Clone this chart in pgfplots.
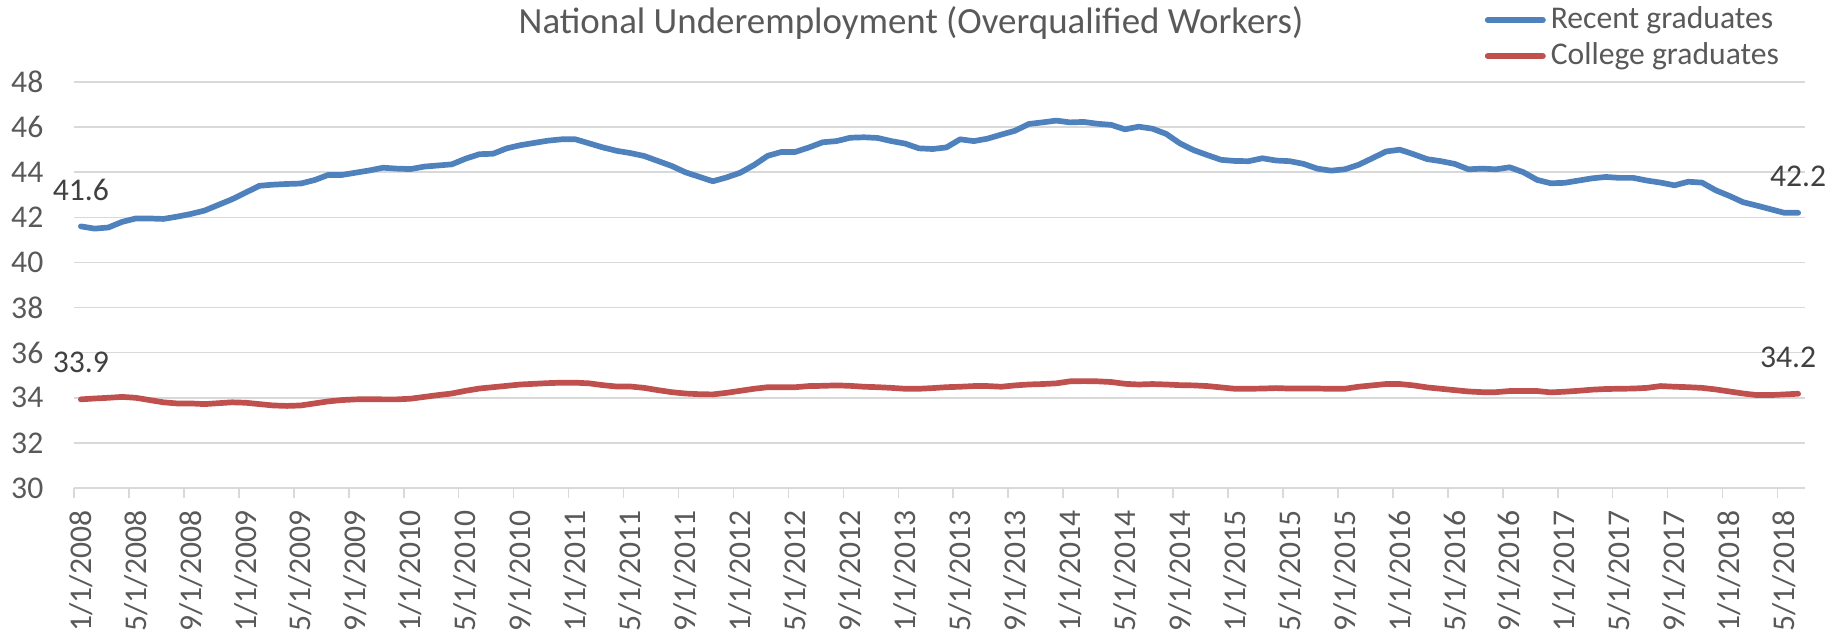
\documentclass[border=0pt]{standalone}
\usepackage{pgfplots}
\pgfplotsset{compat=1.18}
\usepackage{pgfplotstable}
\usepackage{fontspec}
\setmainfont{Carlito}
\definecolor{blueline}{HTML}{4F81BD}
\definecolor{redline}{HTML}{C0504D}
\definecolor{gridc}{HTML}{D9D9D9}
\definecolor{txt}{HTML}{595959}
\definecolor{lbl}{HTML}{404040}

\pgfplotstableread{
m rg cg
0 41.60 33.93
1 41.50 33.97
2 41.55 34.00
3 41.80 34.04
4 41.95 34.00
5 41.95 33.90
6 41.93 33.80
7 42.03 33.75
8 42.15 33.75
9 42.30 33.72
10 42.55 33.76
11 42.80 33.80
12 43.10 33.78
13 43.40 33.72
14 43.45 33.66
15 43.48 33.64
16 43.50 33.66
17 43.65 33.75
18 43.88 33.84
19 43.88 33.90
20 43.98 33.93
21 44.08 33.94
22 44.20 33.93
23 44.16 33.93
24 44.14 33.96
25 44.25 34.04
26 44.30 34.12
27 44.35 34.19
28 44.60 34.31
29 44.80 34.41
30 44.82 34.47
31 45.06 34.53
32 45.20 34.59
33 45.30 34.62
34 45.40 34.65
35 45.46 34.67
36 45.46 34.67
37 45.28 34.64
38 45.10 34.56
39 44.95 34.50
40 44.85 34.50
41 44.72 34.44
42 44.50 34.34
43 44.28 34.25
44 44.00 34.19
45 43.80 34.16
46 43.60 34.15
47 43.77 34.22
48 43.98 34.31
49 44.32 34.40
50 44.73 34.47
51 44.90 34.47
52 44.90 34.47
53 45.10 34.52
54 45.33 34.53
55 45.38 34.55
56 45.53 34.53
57 45.55 34.49
58 45.52 34.47
59 45.38 34.44
60 45.27 34.40
61 45.06 34.40
62 45.03 34.43
63 45.10 34.47
64 45.46 34.49
65 45.38 34.52
66 45.49 34.52
67 45.67 34.49
68 45.84 34.55
69 46.14 34.59
70 46.21 34.61
71 46.29 34.64
72 46.21 34.73
73 46.23 34.74
74 46.15 34.73
75 46.10 34.70
76 45.90 34.62
77 46.02 34.59
78 45.93 34.61
79 45.70 34.59
80 45.28 34.56
81 44.98 34.55
82 44.76 34.52
83 44.55 34.46
84 44.50 34.40
85 44.49 34.40
86 44.62 34.41
87 44.52 34.43
88 44.49 34.41
89 44.37 34.41
90 44.16 34.41
91 44.07 34.40
92 44.13 34.40
93 44.33 34.49
94 44.62 34.55
95 44.92 34.61
96 45.00 34.61
97 44.80 34.55
98 44.58 34.46
99 44.49 34.40
100 44.37 34.34
101 44.13 34.28
102 44.16 34.25
103 44.13 34.25
104 44.22 34.30
105 44.00 34.30
106 43.66 34.30
107 43.51 34.24
108 43.53 34.27
109 43.63 34.31
110 43.73 34.36
111 43.79 34.39
112 43.75 34.40
113 43.75 34.41
114 43.63 34.44
115 43.54 34.52
116 43.42 34.49
117 43.58 34.47
118 43.54 34.44
119 43.20 34.37
120 42.95 34.28
121 42.67 34.19
122 42.52 34.12
123 42.36 34.12
124 42.20 34.15
125 42.20 34.18
}\data

\begin{document}
\begin{tikzpicture}
\useasboundingbox (0,0) rectangle (18.37cm,6.34cm);
\begin{axis}[
  at={(0.74cm,1.46cm)}, anchor=south west,
  scale only axis, width=17.31cm, height=4.06cm,
  xmin=-0.5, xmax=125.5, ymin=30, ymax=48,
  clip=false,
  axis line style={draw=none},
  ytick={30,32,...,48},
  ymajorgrids,
  major grid style={gridc, line width=0.45pt},
  ytick style={draw=none},
  xtick pos=bottom, ytick pos=left,
  /pgf/number format/assume math mode=true,
  yticklabel style={font=\fontsize{9}{10}\selectfont, text=txt, inner sep=0pt, anchor=east},
  yticklabel shift=0.3cm,
  xtick={0,4,...,124},
  xticklabels={1/1/2008,5/1/2008,9/1/2008,1/1/2009,5/1/2009,9/1/2009,1/1/2010,5/1/2010,9/1/2010,1/1/2011,5/1/2011,9/1/2011,1/1/2012,5/1/2012,9/1/2012,1/1/2013,5/1/2013,9/1/2013,1/1/2014,5/1/2014,9/1/2014,1/1/2015,5/1/2015,9/1/2015,1/1/2016,5/1/2016,9/1/2016,1/1/2017,5/1/2017,9/1/2017,1/1/2018,5/1/2018},
  xtick style={draw=none},
  xticklabel style={rotate=90, anchor=east, font=\fontsize{9}{10}\selectfont, text=txt, inner sep=0pt},
  xticklabel shift=0.22cm,
  extra x ticks={-0.5,3.5,...,123.5},
  extra x tick labels={},
  extra x tick style={xtick style={draw=gridc, line width=0.45pt}, major tick length=0.1cm, tick align=outside},
  legend style={at={(0.8146,1.108)}, anchor=west, draw=none, fill=none, inner sep=0pt,
    row sep=0.06cm, font=\fontsize{9}{10}\selectfont, text=txt,
    nodes={inner sep=0pt, text height=0.23cm, text depth=0.07cm, anchor=west},
    /tikz/every odd column/.append style={column sep=0.05cm}},
  legend cell align=left,
  legend image code/.code={\draw[#1, line width=0.06cm, line cap=round] (0cm,0cm) -- (0.55cm,0cm);},
]
\addplot[blueline, line width=0.057cm, line join=round, line cap=round, mark=none] table[x=m,y=rg]{\data};
\addlegendentry{Recent graduates}
\addplot[redline, line width=0.057cm, line join=round, line cap=round, mark=none] table[x=m,y=cg]{\data};
\addlegendentry{College graduates}
\node[font=\fontsize{9}{10}\selectfont, text=lbl, yshift=0.36cm] at (axis cs:0,41.6) {41.6};
\node[font=\fontsize{9}{10}\selectfont, text=lbl, yshift=0.37cm] at (axis cs:0,33.93) {33.9};
\node[font=\fontsize{9}{10}\selectfont, text=lbl, yshift=0.36cm] at (axis cs:125,42.2) {42.2};
\node[font=\fontsize{9}{10}\selectfont, text=lbl, yshift=0.36cm, xshift=-0.1cm] at (axis cs:125,34.18) {34.2};
\end{axis}
\node[font=\fontsize{10.5}{12}\selectfont, text=txt] at (9.11cm,6.11cm) {National Underemployment (Overqualified Workers)};
\end{tikzpicture}
\end{document}
